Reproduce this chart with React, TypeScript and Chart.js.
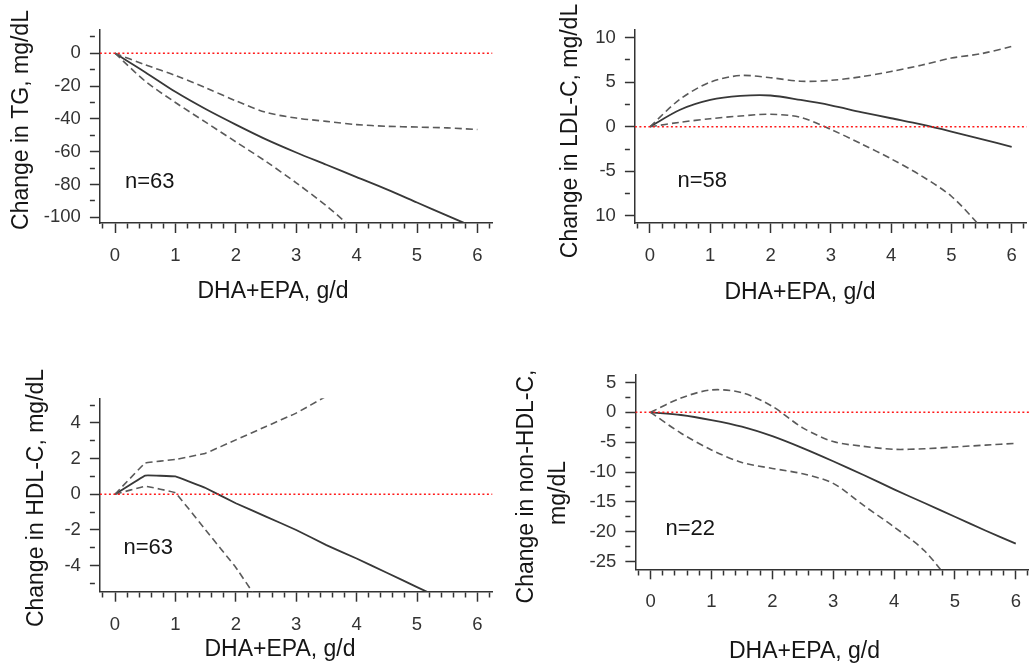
import React, { useEffect, useRef } from "react";
import { Chart, registerables } from "chart.js";

Chart.register(...registerables);

const FONT = "'Liberation Sans', Arial, Helvetica, sans-serif";
const CW = 1040;
const CH = 668;

// ---------- shared x axis ----------
const doses = [0, 0.5, 1, 1.5, 2, 2.5, 3, 3.5, 4, 4.5, 5, 5.5, 6];
const xMajor = [0, 1, 2, 3, 4, 5, 6];
const xLabels = ["0", "1", "2", "3", "4", "5", "6"];
const xTitle = "DHA+EPA, g/d";

// ---------- TG ----------
const tgEst = [0, -11.5, -23.5, -34, -43.5, -52.5, -60.5, -68, -75.5, -83, -91, -99, -107];
const tgUpper = [0, -7, -13.5, -21, -29, -36, -39.5, -41.5, -43.5, -44.5, -45, -45.5, -46.5];
const tgLower = [0, -17, -30, -42, -54, -66, -79, -93, -109, null, null, null, null];
const tgYMajor = [0, -20, -40, -60, -80, -100];
const tgYLabels = ["0", "-20", "-40", "-60", "-80", "-100"];
const tgYMinor = [10, -10, -30, -50, -70, -90];

// ---------- LDL-C ----------
const ldlEst = [0, 1.9, 3.0, 3.45, 3.5, 3.0, 2.4, 1.65, 0.95, 0.25, -0.55, -1.4, -2.25];
const ldlUpper = [0, 3.1, 5.0, 5.75, 5.5, 5.1, 5.2, 5.6, 6.2, 6.9, 7.7, 8.2, 9.0];
const ldlLower = [0, 0.5, 0.9, 1.2, 1.4, 1.05, -0.3, -1.9, -3.6, -5.5, -7.8, -11.3, null];
const ldlYMajor = [10, 5, 0, -5, -10];
const ldlYLabels = ["10", "5", "0", "-5", "10"];
const ldlYMinor = [7.5, 2.5, -2.5, -7.5];

// ---------- HDL-C ----------
const hdlEst = [0, 1.05, 1.0, 0.35, -0.5, -1.25, -2.0, -2.85, -3.6, -4.4, -5.2, -6.0, null];
const hdlUpper = [0, 1.75, 1.95, 2.3, 3.05, 3.8, 4.55, 5.5, null, null, null, null, null];
const hdlLower = [0, 0.45, 0.08, -2.0, -4.1, -6.6, null, null, null, null, null, null, null];
const hdlYMajor = [4, 2, 0, -2, -4];
const hdlYLabels = ["4", "2", "0", "-2", "-4"];
const hdlYMinor = [5, 3, 1, -1, -3, -5];

// ---------- non-HDL-C ----------
const nhEst = [0, -0.45, -1.3, -2.4, -4.0, -6.0, -8.2, -10.5, -12.9, -15.2, -17.5, -19.8, -22.0];
const nhUpper = [0, 2.4, 3.75, 3.3, 1.0, -2.6, -4.9, -5.7, -6.2, -6.1, -5.8, -5.5, -5.2];
const nhLower = [0, -3.5, -6.3, -8.4, -9.4, -10.3, -11.9, -15.6, -19.2, -23.2, -29.4, null, null];
const nhYMajor = [5, 0, -5, -10, -15, -20, -25];
const nhYLabels = ["5", "0", "-5", "-10", "-15", "-20", "-25"];
const nhYMinor = [2.5, -2.5, -7.5, -12.5, -17.5, -22.5];

// x minor ticks every 0.2
const xMinor: number[] = [];
for (let i = -1; i <= 31; i++) {
  const v = Math.round(i * 0.2 * 10) / 10;
  if (Math.abs(v - Math.round(v)) > 1e-9) xMinor.push(v);
}

const panels = [
  {
    id: "tg",
    est: tgEst, upper: tgUpper, lower: tgLower,
    yMajor: tgYMajor, yLabels: tgYLabels, yMinor: tgYMinor,
    yMin: -103.5, yMax: 14.2,
    area: { L: 99.9, R: 492.5, T: 30, B: 223 },
    texts: [
      { text: "Change in TG, mg/dL", x: 21.5, y: 120, size: 23, rotate: true, align: "center" },
      { text: xTitle, x: 273, y: 291.5, size: 23, align: "center" },
      { text: "n=63", x: 125, y: 181.5, size: 22, align: "left" },
    ],
  },
  {
    id: "ldl",
    est: ldlEst, upper: ldlUpper, lower: ldlLower,
    yMajor: ldlYMajor, yLabels: ldlYLabels, yMinor: ldlYMinor,
    yMin: -10.8, yMax: 10.85,
    area: { L: 634.9, R: 1026.75, T: 30, B: 223 },
    texts: [
      { text: "Change in LDL-C, mg/dL", x: 570.5, y: 131, size: 23, rotate: true, align: "center" },
      { text: xTitle, x: 800, y: 292.5, size: 23, align: "center" },
      { text: "n=58", x: 677.5, y: 181, size: 22, align: "left" },
    ],
  },
  {
    id: "hdl",
    est: hdlEst, upper: hdlUpper, lower: hdlLower,
    yMajor: hdlYMajor, yLabels: hdlYLabels, yMinor: hdlYMinor,
    yMin: -5.46, yMax: 5.38,
    area: { L: 99.9, R: 492.5, T: 398.3, B: 591.7 },
    texts: [
      { text: "Change in HDL-C, mg/dL", x: 36.5, y: 498, size: 23, rotate: true, align: "center" },
      { text: xTitle, x: 280, y: 650, size: 23, align: "center" },
      { text: "n=63", x: 123.5, y: 548, size: 22, align: "left" },
    ],
  },
  {
    id: "nonhdl",
    est: nhEst, upper: nhUpper, lower: nhLower,
    yMajor: nhYMajor, yLabels: nhYLabels, yMinor: nhYMinor,
    yMin: -26.3, yMax: 6.25,
    area: { L: 635.35, R: 1034.5, T: 375, B: 569.3 },
    texts: [
      { text: "Change in non-HDL-C,", x: 526.5, y: 486.5, size: 23, rotate: true, align: "center" },
      { text: "mg/dL", x: 558.5, y: 493, size: 23, rotate: true, align: "center" },
      { text: xTitle, x: 804.5, y: 651.5, size: 23, align: "center" },
      { text: "n=22", x: 665.5, y: 528.5, size: 22, align: "left" },
    ],
  },
];

const panelTextPlugin = {
  id: "panelText",
  afterDraw(chart: any, _args: any, opts: any) {
    const ctx = chart.ctx;
    const items = opts.items || [];
    for (let i = 0; i < items.length; i++) {
      const it = items[i];
      ctx.save();
      ctx.font = `${it.size}px ${FONT}`;
      ctx.fillStyle = "#151515";
      ctx.textAlign = it.align;
      ctx.textBaseline = "middle";
      ctx.translate(it.x, it.y);
      if (it.rotate) ctx.rotate(-Math.PI / 2);
      ctx.fillText(it.text, 0, 0);
      ctx.restore();
    }
  },
};

const AXIS = "#333333";
const Y_W = 60;
const X_H = 60;

function isIn(list: number[], v: number) {
  return list.findIndex((m) => Math.abs(m - v) < 1e-6);
}

function Panel({ cfg }: { cfg: any }) {
  const ref = useRef<HTMLCanvasElement | null>(null);
  useEffect(() => {
    const canvas = ref.current;
    if (!canvas) return;
    const toPts = (arr: (number | null)[]) => doses.map((d, i) => ({ x: d, y: arr[i] }));
    const xAll = [...xMajor, ...xMinor].sort((a, b) => a - b);
    const yAll = [...cfg.yMajor, ...cfg.yMinor].sort((a: number, b: number) => a - b);
    const tension = cfg.id === "hdl" ? 0.05 : 0.3;
    const chart = new Chart(canvas, {
      type: "line",
      data: {
        datasets: [
          {
            data: [{ x: -0.25, y: 0 }, { x: 6.25, y: 0 }],
            borderColor: "#ff1a1a",
            borderWidth: 1.5,
            borderDash: [2, 2.5],
            pointRadius: 0,
            tension: 0,
          },
          {
            data: toPts(cfg.upper),
            borderColor: "#5a5a5a",
            borderWidth: 1.6,
            borderDash: [7, 4],
            pointRadius: 0,
            tension,
            spanGaps: false,
            clip: 0,
          },
          {
            data: toPts(cfg.lower),
            borderColor: "#5a5a5a",
            borderWidth: 1.6,
            borderDash: [7, 4],
            pointRadius: 0,
            tension,
            spanGaps: false,
            clip: 0,
          },
          {
            data: toPts(cfg.est),
            borderColor: "#383838",
            borderWidth: 1.8,
            pointRadius: 0,
            tension,
            spanGaps: false,
            clip: 0,
          },
        ],
      },
      options: {
        responsive: false,
        maintainAspectRatio: false,
        animation: false,
        devicePixelRatio: 1,
        events: [],
        layout: {
          padding: {
            left: cfg.area.L - Y_W,
            right: CW - cfg.area.R,
            top: cfg.area.T,
            bottom: CH - cfg.area.B - X_H,
          },
        },
        plugins: {
          legend: { display: false },
          tooltip: { enabled: false },
          title: { display: false },
          panelText: { items: cfg.texts },
        },
        scales: {
          x: {
            type: "linear",
            position: "bottom",
            min: -0.25,
            max: 6.25,
            afterBuildTicks: (s: any) => {
              s.ticks = xAll.map((v) => ({ value: v }));
            },
            afterFit: (s: any) => {
              s.height = X_H;
            },
            border: { display: true, color: AXIS, width: 1.5 },
            grid: {
              drawOnChartArea: false,
              drawTicks: true,
              tickLength: 10,
              tickColor: AXIS,
              tickWidth: 1.5,
              tickBorderDash: (ctx: any) =>
                ctx.tick && isIn(xMajor, ctx.tick.value) >= 0 ? [] : [5, 100],
            },
            ticks: {
              autoSkip: false,
              maxRotation: 0,
              padding: 12,
              color: "#333",
              font: { family: FONT, size: 18.5 },
              callback: (v: any) => {
                const i = isIn(xMajor, Number(v));
                return i >= 0 ? xLabels[i] : "";
              },
            },
          },
          y: {
            type: "linear",
            position: "left",
            min: cfg.yMin,
            max: cfg.yMax,
            afterBuildTicks: (s: any) => {
              s.ticks = yAll.map((v: number) => ({ value: v }));
            },
            afterFit: (s: any) => {
              s.width = Y_W;
            },
            border: { display: true, color: AXIS, width: 1.5 },
            grid: {
              drawOnChartArea: false,
              drawTicks: true,
              tickLength: 10,
              tickColor: AXIS,
              tickWidth: 1.5,
              tickBorderDash: (ctx: any) =>
                ctx.tick && isIn(cfg.yMajor, ctx.tick.value) >= 0 ? [] : [5, 100],
            },
            ticks: {
              autoSkip: false,
              padding: 9,
              color: "#333",
              font: { family: FONT, size: 18.5 },
              callback: (v: any) => {
                const i = isIn(cfg.yMajor, Number(v));
                return i >= 0 ? cfg.yLabels[i] : "";
              },
            },
          },
        },
      } as any,
      plugins: [panelTextPlugin as any],
    });
    return () => chart.destroy();
  }, [cfg]);
  return (
    <canvas
      ref={ref}
      width={CW}
      height={CH}
      style={{ position: "absolute", left: 0, top: 0, width: CW, height: CH }}
    />
  );
}

export default function App() {
  return (
    <div
      style={{
        position: "fixed",
        left: 0,
        top: 0,
        width: 1029,
        height: 668,
        overflow: "hidden",
        background: "#ffffff",
      }}
    >
      {panels.map((p) => (
        <Panel key={p.id} cfg={p} />
      ))}
    </div>
  );
}
